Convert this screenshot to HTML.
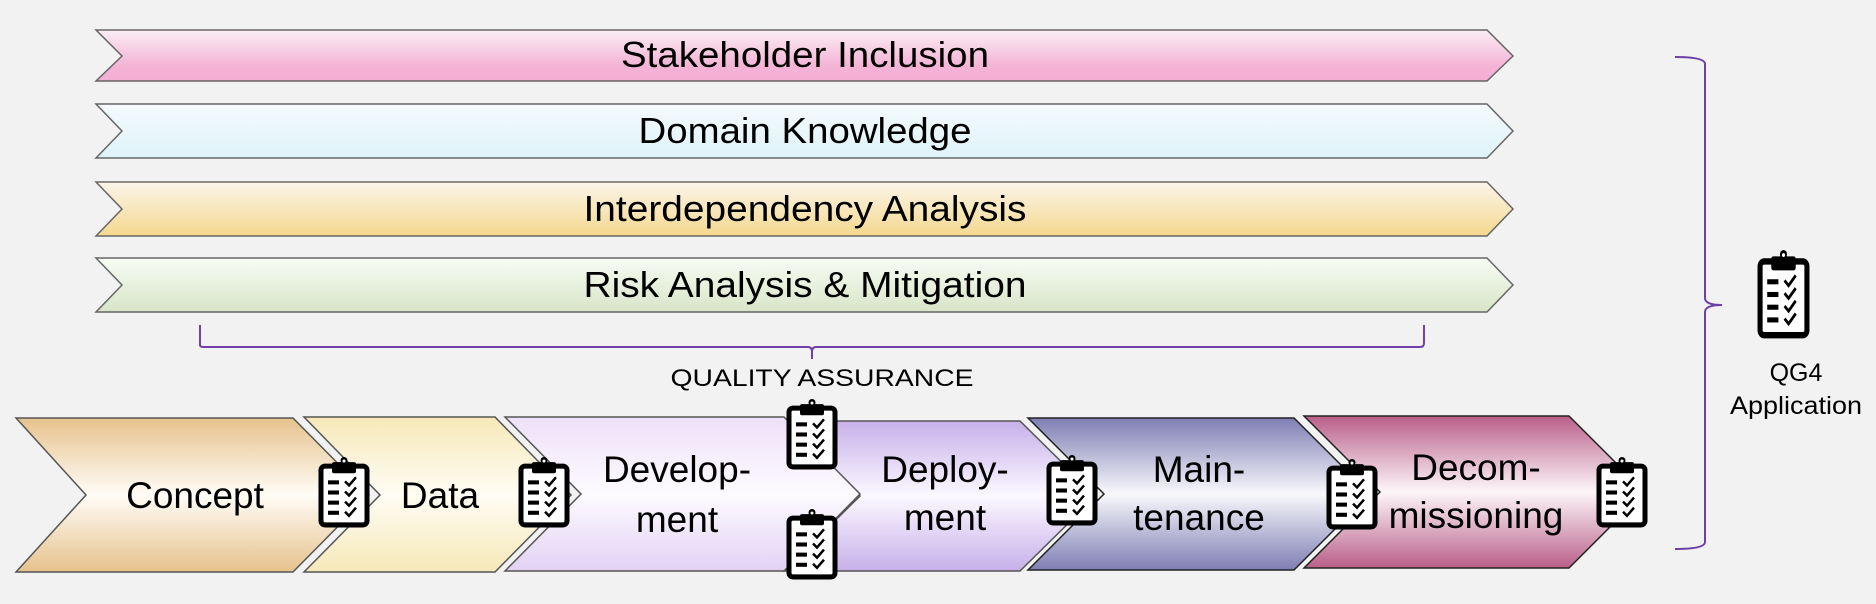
<!DOCTYPE html>
<html><head><meta charset="utf-8"><style>
html,body{margin:0;padding:0;background:#f2f2f2;}
svg{display:block;}
text{font-family:"Liberation Sans",sans-serif;fill:#000;}
</style></head><body>
<svg width="1876" height="604" viewBox="0 0 1876 604" xmlns="http://www.w3.org/2000/svg">
<defs>
<linearGradient id="g1" x1="0" y1="0" x2="0" y2="1"><stop offset="0" stop-color="#fbeef4"/><stop offset="0.7" stop-color="#f4b4d6"/><stop offset="1" stop-color="#f2aed3"/></linearGradient>
<linearGradient id="g2" x1="0" y1="0" x2="0" y2="1"><stop offset="0" stop-color="#f5fafd"/><stop offset="1" stop-color="#def3f9"/></linearGradient>
<linearGradient id="g3" x1="0" y1="0" x2="0" y2="1"><stop offset="0" stop-color="#fbf5ea"/><stop offset="1" stop-color="#f5d88e"/></linearGradient>
<linearGradient id="g4" x1="0" y1="0" x2="0" y2="1"><stop offset="0" stop-color="#f8fcf4"/><stop offset="1" stop-color="#d7e5c7"/></linearGradient>
<linearGradient id="c1" x1="0" y1="0" x2="0" y2="1"><stop offset="0" stop-color="#e6c28c"/><stop offset="0.5" stop-color="#fffcf7"/><stop offset="1" stop-color="#e6c28c"/></linearGradient>
<linearGradient id="c2" x1="0" y1="0" x2="0" y2="1"><stop offset="0" stop-color="#f6e8b8"/><stop offset="0.5" stop-color="#fffdf4"/><stop offset="1" stop-color="#f6e8b8"/></linearGradient>
<linearGradient id="c3" x1="0" y1="0" x2="0" y2="1"><stop offset="0" stop-color="#ede0f8"/><stop offset="0.5" stop-color="#fdfbff"/><stop offset="1" stop-color="#e2d2f4"/></linearGradient>
<linearGradient id="c4" x1="0" y1="0" x2="0" y2="1"><stop offset="0" stop-color="#c7b0ea"/><stop offset="0.5" stop-color="#fbf8ff"/><stop offset="1" stop-color="#c7b0ea"/></linearGradient>
<linearGradient id="c5" x1="0" y1="0" x2="0" y2="1"><stop offset="0" stop-color="#7f7eb4"/><stop offset="0.5" stop-color="#f8f8fc"/><stop offset="1" stop-color="#7f7eb4"/></linearGradient>
<linearGradient id="c6" x1="0" y1="0" x2="0" y2="1"><stop offset="0" stop-color="#b95f88"/><stop offset="0.5" stop-color="#fdf6f9"/><stop offset="1" stop-color="#b95f88"/></linearGradient>
<symbol id="clip" viewBox="0 0 54 70" preserveAspectRatio="none">
<rect x="4" y="9" width="46" height="58" rx="4" fill="#fff" stroke="#000" stroke-width="5"/>
<rect x="15" y="5" width="24" height="11" rx="2" fill="#000"/>
<circle cx="27" cy="3.5" r="3.5" fill="#000"/><circle cx="27" cy="4" r="1.5" fill="#fff"/>
<g stroke="#000" stroke-width="4"><line x1="11" y1="25" x2="22" y2="25"/><line x1="11" y1="35" x2="22" y2="35"/><line x1="11" y1="45" x2="22" y2="45"/><line x1="11" y1="55" x2="22" y2="55"/></g>
<g stroke="#000" stroke-width="2.5" fill="none"><path d="M28 24l4 4 7-8"/><path d="M28 34l4 4 7-8"/><path d="M28 44l4 4 7-8"/><path d="M28 54l4 4 7-8"/></g>
</symbol>
</defs>

<g stroke="#666" stroke-width="1.5">
<polygon points="96,30 1487,30 1513,56 1487,81 96,81 122,56" fill="url(#g1)"/>
<polygon points="96,104 1487,104 1513,131 1487,158 96,158 122,131" fill="url(#g2)"/>
<polygon points="96,182 1487,182 1513,209 1487,236 96,236 122,209" fill="url(#g3)"/>
<polygon points="96,258 1487,258 1513,285 1487,312 96,312 122,285" fill="url(#g4)"/>
</g>
<g font-size="36" text-anchor="middle">
<text x="805" y="67" textLength="368" lengthAdjust="spacingAndGlyphs">Stakeholder Inclusion</text>
<text x="805" y="143" textLength="333" lengthAdjust="spacingAndGlyphs">Domain Knowledge</text>
<text x="805" y="221" textLength="443" lengthAdjust="spacingAndGlyphs">Interdependency Analysis</text>
<text x="805" y="297" textLength="443" lengthAdjust="spacingAndGlyphs">Risk Analysis &amp; Mitigation</text>
</g>

<path d="M200,325 V345 Q200,347 204,347 H808 Q812,347 812,352 V359 M812,352 Q812,347 816,347 H1420 Q1424,347 1424,343 V325" fill="none" stroke="#7040a8" stroke-width="2"/>
<text x="822" y="386" font-size="24" text-anchor="middle" textLength="303" lengthAdjust="spacingAndGlyphs">QUALITY ASSURANCE</text>

<path d="M1675,57 Q1705,57 1705,64 V298 Q1705,305 1722,305 M1705,312 Q1705,305 1722,305 M1705,312 V542 Q1705,549 1675,549" fill="none" stroke="#7040a8" stroke-width="2"/>
<use href="#clip" x="1756" y="250" width="55" height="89"/>
<text x="1796" y="381" font-size="25" text-anchor="middle">QG4</text>
<text x="1796" y="414" font-size="25" text-anchor="middle" textLength="132" lengthAdjust="spacingAndGlyphs">Application</text>

<g stroke="#555" stroke-width="1.5">
<polygon points="16,418 293,418 369,495 293,572 16,572 86,495" fill="url(#c1)"/>
<polygon points="304,417 495,417 571,495 495,572 304,572 380,495" fill="url(#c2)"/>
<polygon points="784,421 1020,421 1096,496 1020,571 784,571 860,496" fill="url(#c4)"/>
<polygon points="505,417 784,417 860,494 784,571 505,571 581,494" fill="url(#c3)"/>
<polygon points="1028,418 1294,418 1370,494 1294,570 1028,570 1104,494" fill="url(#c5)" stroke="#222"/>
<polygon points="1304,416 1569,416 1645,492 1569,568 1304,568 1380,492" fill="url(#c6)" stroke="#222"/>
</g>
<g font-size="37" text-anchor="middle">
<text x="195" y="508">Concept</text>
<text x="440" y="508">Data</text>
<text x="677" y="482">Develop-</text>
<text x="677" y="532">ment</text>
<text x="945" y="482">Deploy-</text>
<text x="945" y="530">ment</text>
<text x="1199" y="482">Main-</text>
<text x="1199" y="530">tenance</text>
<text x="1476" y="480">Decom-</text>
<text x="1476" y="528">missioning</text>
</g>

<use href="#clip" x="317" y="457" width="54" height="71"/>
<use href="#clip" x="517" y="457" width="54" height="71"/>
<use href="#clip" x="785" y="399" width="54" height="71"/>
<use href="#clip" x="785" y="509" width="54" height="71"/>
<use href="#clip" x="1045" y="455" width="54" height="71"/>
<use href="#clip" x="1325" y="459" width="54" height="71"/>
<use href="#clip" x="1595" y="457" width="54" height="71"/>
</svg>
</body></html>
